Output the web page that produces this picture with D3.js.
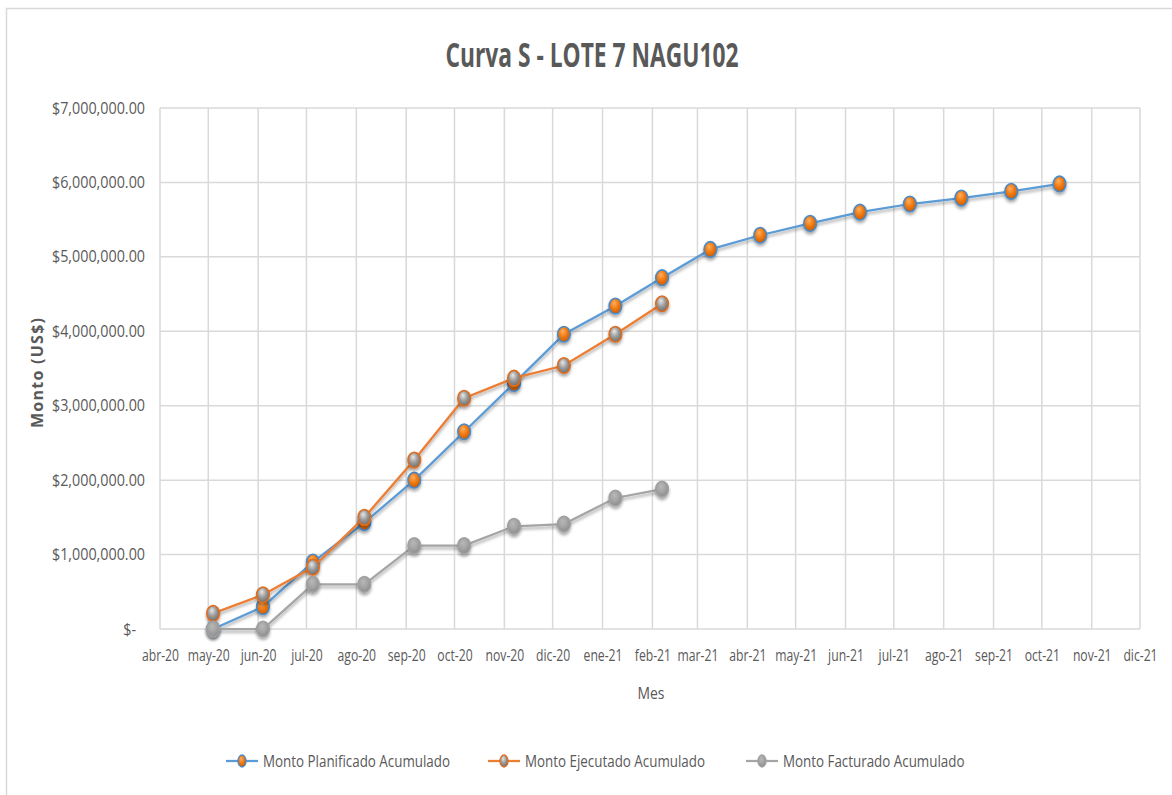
<!DOCTYPE html>
<html>
<head>
<meta charset="utf-8">
<script src="https://cdn.jsdelivr.net/npm/d3@7"></script>
<style>
  html, body { margin: 0; padding: 0; background: #fff; }
  svg { display: block; }
  text { font-family: "Open Sans", sans-serif; fill: #595959; }
</style>
</head>
<body>
<svg id="chart" width="1172" height="795"></svg>
<script>
// ---- data ----
const title = "Curva S - LOTE 7 NAGU102";
const yTitle = "Monto (US$)";
const xTitle = "Mes";
const seriesNames = ["Monto Planificado Acumulado", "Monto Ejecutado Acumulado", "Monto Facturado Acumulado"];
const dates = ["2020-05-04","2020-06-04","2020-07-05","2020-08-06","2020-09-06","2020-10-07","2020-11-07","2020-12-08","2021-01-09","2021-02-07","2021-03-09","2021-04-09","2021-05-10","2021-06-10","2021-07-11","2021-08-12","2021-09-12","2021-10-12"];
const planificado = [0, 300000, 900000, 1430000, 2000000, 2650000, 3300000, 3960000, 4340000, 4720000, 5100000, 5290000, 5450000, 5600000, 5710000, 5790000, 5880000, 5980000];
const ejecutado = [210000, 460000, 830000, 1500000, 2270000, 3100000, 3370000, 3540000, 3960000, 4370000];
const facturado = [0, 0, 600000, 600000, 1120000, 1120000, 1380000, 1410000, 1760000, 1880000];
const monthNames = ["ene","feb","mar","abr","may","jun","jul","ago","sep","oct","nov","dic"];
const yTicks = [0, 1000000, 2000000, 3000000, 4000000, 5000000, 6000000, 7000000];

// ---- layout ----
const svg = d3.select("#chart");
const L = 160, R = 1140, T = 108, B = 629;
const parse = d3.timeParse("%Y-%m-%d");
const x = d3.scaleTime().domain([new Date(2020,3,1), new Date(2021,11,1)]).range([L, R]);
const y = d3.scaleLinear().domain([0, 7000000]).range([B, T]);

// horizontally condense a selection of texts by factor k
function condense(sel, k) {
  sel.each(function() {
    const w = this.getComputedTextLength();
    d3.select(this).attr("textLength", w * k).attr("lengthAdjust", "spacingAndGlyphs");
  });
}
function naturalWidth(str, size, weight) {
  const t = svg.append("text").attr("font-size", size).attr("font-weight", weight || "normal").text(str);
  const w = t.node().getComputedTextLength();
  t.remove();
  return w;
}

// outer border
svg.append("rect").attr("x", 6.5).attr("y", 8.5).attr("width", 1180).attr("height", 800)
  .attr("fill", "none").attr("stroke", "#D9D9D9").attr("stroke-width", 1.5);

// defs: gradients & shadow
const defs = svg.append("defs");
function grad(id, inner, mid, outer) {
  const g = defs.append("radialGradient").attr("id", id).attr("cx", "45%").attr("cy", "40%").attr("r", "60%").attr("fx", "40%").attr("fy", "30%");
  g.append("stop").attr("offset", "0%").attr("stop-color", inner);
  g.append("stop").attr("offset", "55%").attr("stop-color", mid);
  g.append("stop").attr("offset", "100%").attr("stop-color", outer);
}
grad("gOrange", "#FFB060", "#F07A12", "#C85A00");
grad("gGray", "#E8E8E8", "#9A9A9A", "#6E6E6E");
grad("gGray2", "#B8B8B8", "#A5A5A5", "#8C8C8C");
const f = defs.append("filter").attr("id", "shadow").attr("x", "-50%").attr("y", "-50%").attr("width", "200%").attr("height", "200%");
f.append("feDropShadow").attr("dx", 0).attr("dy", 2.5).attr("stdDeviation", 1.8).attr("flood-color", "#000").attr("flood-opacity", 0.35);

// gridlines
const months = x.ticks(d3.timeMonth.every(1));
svg.append("g").selectAll("line").data(months).join("line")
  .attr("x1", d => x(d)).attr("x2", d => x(d)).attr("y1", T).attr("y2", B)
  .attr("stroke", "#D9D9D9").attr("stroke-width", 1.5);
svg.append("g").selectAll("line").data(yTicks).join("line")
  .attr("x1", L).attr("x2", R).attr("y1", d => y(d)).attr("y2", d => y(d))
  .attr("stroke", "#D9D9D9").attr("stroke-width", 1.5);

// axes
const tickSize = 16;
const fmtMoney = d => d === 0 ? "$-" : "$" + d3.format(",.2f")(d);
const yAxis = d3.axisLeft(y).tickValues(yTicks).tickSize(0).tickPadding(15).tickFormat(fmtMoney);
const gy = svg.append("g").attr("transform", `translate(${L},0)`).call(yAxis);
gy.select(".domain").remove();
gy.selectAll("text").attr("font-size", tickSize).attr("fill", "#595959").style("font-family", '"Open Sans", sans-serif');
gy.selectAll(".tick").filter(d => d === 0).select("text").attr("dx", -9);
condense(gy.selectAll("text"), 93 / naturalWidth("$7,000,000.00", tickSize));

const xAxis = d3.axisBottom(x).tickValues(months).tickSize(0).tickPadding(21)
  .tickFormat(d => monthNames[d.getMonth()] + "-" + String(d.getFullYear()).slice(2));
const gx = svg.append("g").attr("transform", `translate(0,${B})`).call(xAxis);
gx.select(".domain").remove();
const kx = 42 / naturalWidth("may-20", tickSize);
gx.selectAll("text").attr("font-size", tickSize).attr("fill", "#595959")
  .style("font-family", '"Open Sans", sans-serif')
  .attr("transform", `scale(${kx},1)`);

// titles
const tt = svg.append("text").attr("x", 592).attr("y", 67).attr("text-anchor", "middle")
  .attr("font-size", 34).attr("font-weight", "bold").attr("fill", "#595959").text(title);
tt.attr("textLength", 293).attr("lengthAdjust", "spacingAndGlyphs");
svg.append("text").attr("transform", "translate(43,373) rotate(-90)").attr("text-anchor", "middle")
  .attr("font-size", 16).attr("font-weight", "bold").attr("fill", "#595959")
  .attr("textLength", 110).attr("lengthAdjust", "spacing").text(yTitle);
const mt = svg.append("text").attr("x", 651).attr("y", 699).attr("text-anchor", "middle")
  .attr("font-size", tickSize).attr("fill", "#595959").text(xTitle);
condense(mt, 27 / mt.node().getComputedTextLength());

// series
const series = [
  { name: seriesNames[0], vals: planificado, line: "#5B9BD5", fill: "url(#gOrange)", stroke: "#4A8AC8" },
  { name: seriesNames[1], vals: ejecutado, line: "#ED7D31", fill: "url(#gGray)", stroke: "#E06D1E" },
  { name: seriesNames[2], vals: facturado, line: "#A5A5A5", fill: "url(#gGray2)", stroke: "#A0A0A0" }
];
const line = d3.line().x(d => x(d.date)).y(d => y(d.v));
series.forEach(s => {
  const pts = s.vals.map((v, i) => ({ date: parse(dates[i]), v }));
  const g = svg.append("g");
  g.append("path").datum(pts).attr("d", line).attr("fill", "none")
    .attr("stroke", s.line).attr("stroke-width", 2.25).attr("filter", "url(#shadow)");
  g.selectAll("ellipse").data(pts).join("ellipse")
    .attr("cx", d => x(d.date)).attr("cy", d => y(d.v)).attr("rx", 6.3).attr("ry", 7.8)
    .attr("fill", s.fill).attr("stroke", s.stroke).attr("stroke-width", 1.6).attr("filter", "url(#shadow)");
});

// legend
const legendX = [226, 488, 746];
const ly = 761;
const kL = 187 / naturalWidth(seriesNames[0], tickSize);
series.forEach((s, i) => {
  const g = svg.append("g").attr("transform", `translate(${legendX[i]},${ly})`);
  g.append("line").attr("x1", 0).attr("x2", 32).attr("y1", 0).attr("y2", 0).attr("stroke", s.line).attr("stroke-width", 2.25);
  g.append("ellipse").attr("cx", 16).attr("cy", 0).attr("rx", 4).attr("ry", 6)
    .attr("fill", s.fill).attr("stroke", s.stroke).attr("stroke-width", 1.3);
  const t = g.append("text").attr("x", 37).attr("y", 6).attr("font-size", tickSize).attr("fill", "#595959").text(s.name);
  condense(t, kL);
});
</script>
</body>
</html>
